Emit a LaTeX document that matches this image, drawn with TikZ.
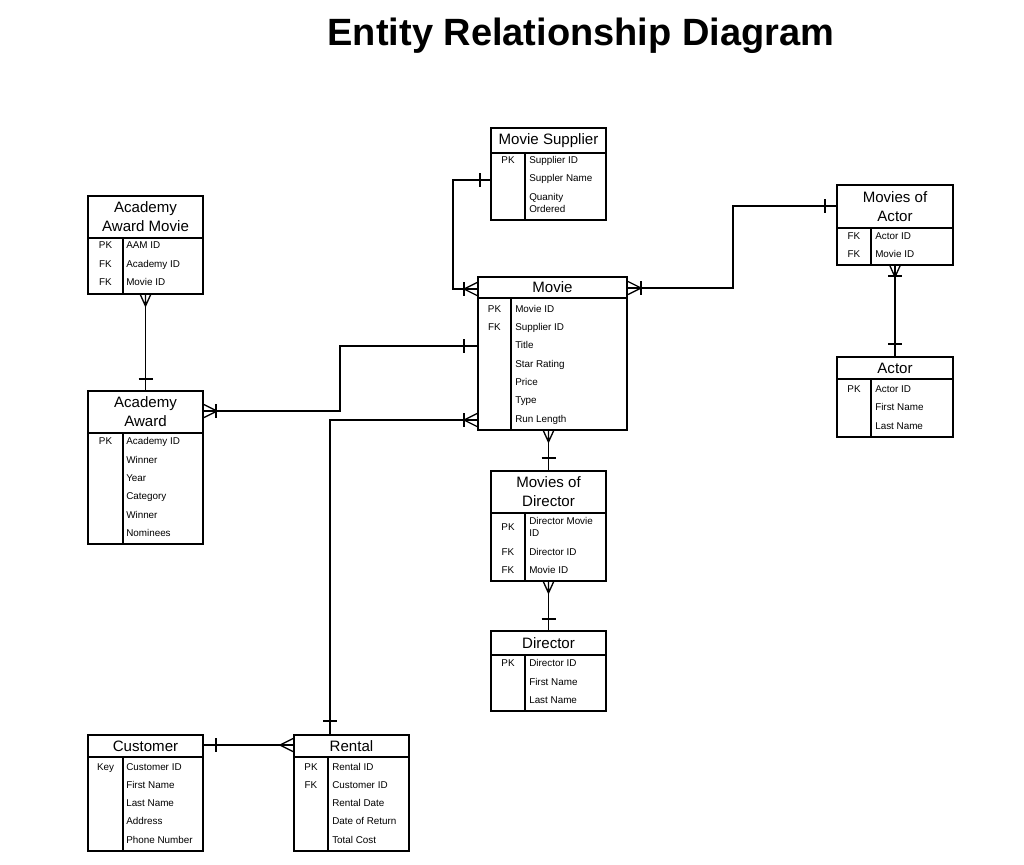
\documentclass[tikz,border=0pt]{standalone}
\usepackage{fontspec}
\setmainfont{Liberation Sans}
\usetikzlibrary{fit,calc}
\tikzset{
  box/.style={draw=black, line width=1.5pt, inner sep=0pt, fill=none},
  inner/.style={draw=black, line width=0.9pt},
  conn/.style={draw=black, line width=1pt},
  htext/.style={inner sep=0pt, align=center, font=\fontsize{11.3}{14.25}\selectfont},
  ktext/.style={inner sep=0pt, anchor=base, font=\fontsize{7.4}{9}\selectfont},
  rtext/.style={inner sep=0pt, anchor=base west, align=left, font=\fontsize{7.4}{9}\selectfont},
  crow/.pic={\draw[conn] (0,-6.5) -- (13,0) -- (0,6.5) (0,0) -- (13,0);},
  crowsm/.pic={\draw[conn] (0,-5) -- (11,0) -- (0,5) (0,0) -- (11,0);},
  one/.pic={\draw[conn] (0,-7) -- (0,7);},
}
\newcommand\ertable[8]{%
  \node[box, fit={(#2,#3) (#4,#5)}] (#1) {};
  \draw[inner] (#2,#6) -- (#4,#6) (#7,#6) -- (#7,#5);
  \node[htext] (#1-t) at ({(#2+#4)/2},{(#3+#6)/2}) {#8};
}
\begin{document}
\begin{tikzpicture}[x=0.75pt,y=-0.75pt]
\useasboundingbox (0,0) rectangle (1024,864);

\node[font=\bfseries\fontsize{28.5}{30}\selectfont, inner sep=0pt] (title) at (581,36) {Entity Relationship Diagram};

% Movie Supplier
\ertable{sup}{491}{128}{606}{220}{153}{525}{Movie Supplier}
\foreach \k/\y/\t [count=\i] in {PK/160/Supplier ID, /178/Suppler Name, /209/{Quanity\\Ordered}}
  {\node[ktext] (sup-k\i) at (508,\y+3.6) {\k}; \node[rtext] (sup-r\i) at (529,\y+3.6) {\t};}

% Academy Award Movie
\ertable{aam}{88}{196}{203}{294}{238}{123}{Academy\\Award Movie}
\foreach \k/\y/\t [count=\i] in {PK/245/AAM ID, FK/264/Academy ID, FK/282/Movie ID}
  {\node[ktext] (aam-k\i) at (105.5,\y+3.6) {\k}; \node[rtext] (aam-r\i) at (126,\y+3.6) {\t};}

% Movie
\ertable{mov}{478}{277}{627}{430}{298}{511}{Movie}
\foreach \k/\y/\t [count=\i] in {PK/309/Movie ID, FK/327/Supplier ID, /345/Title, /364/Star Rating, /382/Price, /400/Type, /419/Run Length}
  {\node[ktext] (mov-k\i) at (494.5,\y+3.6) {\k}; \node[rtext] (mov-r\i) at (515,\y+3.6) {\t};}

% Movies of Actor
\ertable{moa}{837}{185}{953}{265}{228}{871}{Movies of\\Actor}
\foreach \k/\y/\t [count=\i] in {FK/236/Actor ID, FK/254/Movie ID}
  {\node[ktext] (moa-k\i) at (854,\y+3.6) {\k}; \node[rtext] (moa-r\i) at (875,\y+3.6) {\t};}

% Actor
\ertable{act}{837}{357}{953}{437}{379}{871}{Actor}
\foreach \k/\y/\t [count=\i] in {PK/389/Actor ID, /407/First Name, /426/Last Name}
  {\node[ktext] (act-k\i) at (854,\y+3.6) {\k}; \node[rtext] (act-r\i) at (875,\y+3.6) {\t};}

% Academy Award
\ertable{aa}{88}{391}{203}{544}{433}{123}{Academy\\Award}
\foreach \k/\y/\t [count=\i] in {PK/441/Academy ID, /460/Winner, /478/Year, /496/Category, /515/Winner, /533/Nominees}
  {\node[ktext] (aa-k\i) at (105.5,\y+3.6) {\k}; \node[rtext] (aa-r\i) at (126,\y+3.6) {\t};}

% Movies of Director
\ertable{mod}{491}{471}{606}{581}{513}{525}{Movies of\\Director}
\node[ktext] (mod-k1) at (508,527+3.6) {PK};
\node[rtext] (mod-r1) at (529,533+3.6) {Director Movie\\ID};
\foreach \k/\y/\t [count=\i from 2] in {FK/552/Director ID, FK/570/Movie ID}
  {\node[ktext] (mod-k\i) at (508,\y+3.6) {\k}; \node[rtext] (mod-r\i) at (529,\y+3.6) {\t};}

% Director
\ertable{dir}{491}{631}{606}{711}{655}{525}{Director}
\foreach \k/\y/\t [count=\i] in {PK/663/Director ID, /682/First Name, /700/Last Name}
  {\node[ktext] (dir-k\i) at (508,\y+3.6) {\k}; \node[rtext] (dir-r\i) at (529,\y+3.6) {\t};}

% Customer
\ertable{cus}{88}{735}{203}{851}{757}{123}{Customer}
\foreach \k/\y/\t [count=\i] in {Key/767/Customer ID, /785/First Name, /803/Last Name, /821/Address, /840/Phone Number}
  {\node[ktext] (cus-k\i) at (105.5,\y+3.6) {\k}; \node[rtext] (cus-r\i) at (126,\y+3.6) {\t};}

% Rental
\ertable{ren}{294}{735}{409}{851}{757}{328}{Rental}
\foreach \k/\y/\t [count=\i] in {PK/767/Rental ID, FK/785/Customer ID, /803/Rental Date, /821/Date of Return, /840/Total Cost}
  {\node[ktext] (ren-k\i) at (311,\y+3.6) {\k}; \node[rtext] (ren-r\i) at (332,\y+3.6) {\t};}

% ---------- connectors ----------
% Movie Supplier -- Movie
\draw[conn] ($(sup.north west)+(0,53)$) -- ++(-37,0) |- ($(mov.north west)+(0,13)$);
\pic at ($(sup.north west)+(-10,53)$) {one};
\pic[rotate=180] at ($(mov.north west)+(0,13)$) {crow};
\pic at ($(mov.north west)+(-13,13)$) {one};

% Movie -- Movies of Actor
\draw[conn] ($(mov.north east)+(0,12)$) -- ++(105,0) |- ($(moa.north west)+(0,22)$);
\pic at ($(mov.north east)+(0,12)$) {crow};
\pic at ($(mov.north east)+(13,12)$) {one};
\pic at ($(moa.north west)+(-11,22)$) {one};

% Movies of Actor -- Actor
\draw[conn] (moa.south) -- (act.north);
\pic[rotate=-90] at (moa.south) {crowsm};
\pic[rotate=90] at ($(moa.south)+(0,10)$) {one};
\pic[rotate=90] at ($(act.north)+(0,-12)$) {one};

% Academy Award Movie -- Academy Award
\draw[conn] (aam.south) -- (aa.north);
\pic[rotate=-90] at (aam.south) {crowsm};
\pic[rotate=90] at ($(aa.north)+(0,-11)$) {one};

% Movie -- Academy Award
\draw[conn] ($(mov.north west)+(0,70)$) -- ++(-137,0) |- ($(aa.north east)+(0,21)$);
\pic at ($(mov.north west)+(-13,70)$) {one};
\pic at ($(aa.north east)+(0,21)$) {crow};
\pic at ($(aa.north east)+(12,21)$) {one};

% Movie -- Rental
\draw[conn] ($(mov.north west)+(0,144)$) -| ($(ren.north west)+(37,0)$);
\pic[rotate=180] at ($(mov.north west)+(0,144)$) {crow};
\pic at ($(mov.north west)+(-13,144)$) {one};
\pic[rotate=90] at ($(ren.north west)+(37,-13)$) {one};

% Movie -- Movies of Director
\draw[conn] (mod.north |- mov.south) -- (mod.north);
\pic[rotate=-90] at (mod.north |- mov.south) {crowsm};
\pic[rotate=90] at ($(mod.north)+(0,-12)$) {one};

% Movies of Director -- Director
\draw[conn] (mod.south) -- (dir.north);
\pic[rotate=-90] at (mod.south) {crowsm};
\pic[rotate=90] at ($(dir.north)+(0,-11)$) {one};

% Customer -- Rental
\draw[conn] ($(cus.north east)+(0,11)$) -- ($(ren.north west)+(0,11)$);
\pic at ($(cus.north east)+(12,11)$) {one};
\pic[rotate=180] at ($(ren.north west)+(0,11)$) {crow};
\end{tikzpicture}
\end{document}
